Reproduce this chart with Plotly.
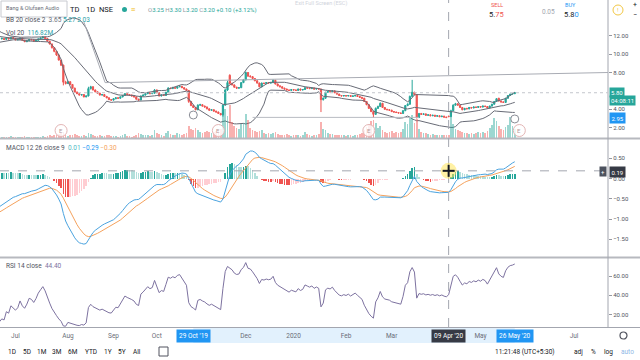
import pandas as pd
import plotly.graph_objects as go

FONT = "Roboto"
UP = "#26a69a"
DN = "#ef5350"
TXT = "#50535e"

# ---------------- calendar (NSE trading days) ----------------
first_date = "2019-06-21"
last_date = "2020-05-26"
axis_end = "2020-07-31"
holidays = ["2019-08-12", "2019-08-15", "2019-09-02", "2019-09-10", "2019-10-02",
            "2019-10-08", "2019-10-21", "2019-10-28", "2019-11-12", "2019-12-25",
            "2020-02-21", "2020-03-10", "2020-04-02", "2020-04-06", "2020-04-10",
            "2020-04-14", "2020-05-01", "2020-05-25"]
special_sessions = ["2020-02-01"]

tick_months = ["2019-07", "2019-08", "2019-09", "2019-10", "2019-12", "2020-01",
               "2020-02", "2020-03", "2020-05", "2020-07"]
tick_labels = ["Jul", "Aug", "Sep", "Oct", "Dec", "2020", "Feb", "Mar", "May", "Jul"]

# ---------------- daily OHLCV ----------------
opens = [
    11.65, 11.70, 11.60, 11.75, 11.65, 11.80, 11.70, 11.55, 11.60, 11.75,
    11.50, 11.35, 11.45, 11.60, 11.55, 11.40, 11.50, 11.65, 11.75, 11.85,
    11.70, 11.40, 11.10, 10.70, 10.30, 9.90, 9.35, 8.80, 6.95, 6.80,
    7.00, 6.70, 6.30, 5.85, 5.70, 5.55, 5.60, 5.35, 5.45, 6.25,
    6.45, 6.10, 5.90, 5.75, 5.55, 5.60, 5.40, 5.25, 5.05, 5.00,
    5.15, 5.25, 5.20, 5.35, 5.50, 5.70, 5.60, 5.55, 5.45, 5.35,
    5.10, 5.00, 5.45, 5.55, 5.70, 5.80, 5.70, 5.75, 6.10, 5.80,
    5.45, 5.55, 5.50, 5.85, 6.30, 6.25, 6.35, 6.30, 6.45, 6.50,
    6.35, 6.20, 6.05, 4.85, 4.40, 4.20, 3.95, 4.45, 4.50, 4.35,
    4.25, 4.05, 3.90, 3.95, 3.80, 3.70, 3.55, 3.40, 4.45, 6.10,
    7.70, 6.80, 6.65, 6.40, 6.30, 6.35, 6.90, 7.20, 8.00, 7.60,
    7.55, 7.35, 7.10, 6.85, 6.45, 6.85, 6.80, 6.90, 6.85, 6.90,
    7.15, 6.75, 6.55, 6.45, 6.30, 6.20, 6.10, 6.05, 6.15, 6.10,
    6.05, 6.20, 6.10, 6.15, 6.35, 6.30, 6.25, 6.30, 6.20, 6.25,
    6.20, 5.05, 5.20, 5.85, 5.95, 5.90, 6.00, 5.80, 5.65, 5.50,
    5.45, 5.50, 5.45, 5.50, 5.40, 5.45, 5.50, 5.40, 5.30, 5.20,
    4.85, 4.50, 4.10, 3.75, 3.45, 4.10, 4.30, 4.65, 4.20, 4.00,
    3.95, 3.90, 3.75, 3.70, 3.65, 3.60, 3.55, 3.85, 4.40, 4.55,
    5.40, 5.85, 5.60, 3.10, 3.55, 3.45, 3.50, 3.35, 3.40, 3.30,
    3.35, 3.25, 3.30, 3.20, 3.25, 3.15, 3.25, 3.20, 3.85, 4.45,
    4.60, 4.45, 4.20, 3.95, 4.10, 4.05, 4.20, 4.15, 4.25, 4.20,
    4.30, 4.25, 4.35, 4.30, 4.15, 4.35, 4.55, 4.85, 5.20, 4.90,
    4.80, 4.75, 5.20, 5.50, 5.65, 5.70]
highs = [
    11.80, 11.75, 11.80, 11.80, 11.85, 11.85, 11.75, 11.65, 11.80, 11.80,
    11.55, 11.50, 11.65, 11.65, 11.60, 11.55, 11.70, 11.80, 11.95, 11.90,
    11.75, 11.45, 11.15, 10.75, 10.35, 9.95, 9.40, 8.85, 7.10, 7.10,
    7.05, 6.75, 6.35, 5.95, 5.75, 5.65, 5.65, 5.50, 6.45, 6.55,
    6.50, 6.15, 5.95, 5.80, 5.65, 5.65, 5.45, 5.30, 5.10, 5.20,
    5.30, 5.30, 5.40, 5.55, 5.75, 5.75, 5.65, 5.60, 5.50, 5.40,
    5.15, 5.50, 5.60, 5.75, 5.85, 5.85, 5.80, 6.20, 6.15, 5.85,
    5.60, 5.60, 5.90, 6.40, 6.35, 6.45, 6.40, 6.50, 6.60, 6.55,
    6.40, 6.25, 6.10, 4.90, 4.50, 4.25, 4.55, 4.60, 4.55, 4.40,
    4.30, 4.10, 4.00, 4.00, 3.85, 3.75, 3.60, 4.55, 6.20, 7.10,
    7.80, 6.90, 6.70, 6.45, 6.40, 6.95, 7.30, 8.10, 8.05, 7.70,
    7.60, 7.40, 7.15, 6.90, 6.90, 6.90, 6.95, 6.95, 6.95, 7.25,
    7.20, 6.80, 6.60, 6.50, 6.35, 6.25, 6.15, 6.20, 6.20, 6.15,
    6.25, 6.25, 6.20, 6.40, 6.40, 6.35, 6.35, 6.35, 6.30, 6.30,
    6.25, 5.30, 5.90, 6.00, 6.00, 6.05, 6.05, 5.85, 5.70, 5.55,
    5.55, 5.55, 5.55, 5.55, 5.50, 5.55, 5.55, 5.45, 5.35, 5.25,
    4.90, 4.55, 4.15, 3.80, 4.20, 4.40, 4.75, 4.70, 4.25, 4.05,
    4.00, 3.95, 3.80, 3.75, 3.70, 3.65, 3.90, 4.45, 4.65, 5.50,
    7.20, 5.90, 5.65, 3.60, 3.60, 3.55, 3.55, 3.45, 3.45, 3.40,
    3.40, 3.35, 3.35, 3.30, 3.30, 3.20, 3.30, 3.95, 4.55, 4.70,
    4.65, 4.50, 4.25, 4.15, 4.15, 4.25, 4.25, 4.30, 4.30, 4.35,
    4.35, 4.40, 4.40, 4.35, 4.40, 4.60, 4.90, 5.20, 5.25, 4.95,
    4.85, 5.25, 5.55, 5.70, 5.75, 5.85]
lows = [
    11.60, 11.55, 11.55, 11.60, 11.60, 11.65, 11.50, 11.50, 11.55, 11.45,
    11.30, 11.30, 11.40, 11.50, 11.35, 11.35, 11.45, 11.60, 11.70, 11.65,
    11.35, 11.05, 10.60, 10.20, 9.80, 9.30, 8.70, 6.60, 6.70, 6.75,
    6.65, 6.25, 5.80, 5.65, 5.50, 5.50, 5.30, 5.30, 5.40, 6.15,
    6.05, 5.85, 5.70, 5.50, 5.50, 5.35, 5.20, 5.00, 4.95, 4.95,
    5.10, 5.15, 5.15, 5.30, 5.45, 5.55, 5.50, 5.40, 5.30, 5.05,
    4.95, 5.00, 5.40, 5.50, 5.65, 5.65, 5.65, 5.70, 5.75, 5.40,
    5.40, 5.45, 5.45, 5.80, 6.20, 6.20, 6.25, 6.25, 6.40, 6.30,
    6.15, 6.00, 4.70, 4.35, 4.15, 3.90, 3.90, 4.40, 4.30, 4.20,
    4.00, 3.85, 3.85, 3.75, 3.65, 3.50, 3.35, 3.20, 4.40, 6.00,
    6.70, 6.60, 6.35, 6.20, 6.25, 6.30, 6.85, 7.15, 7.55, 7.45,
    7.30, 7.05, 6.80, 6.40, 6.40, 6.75, 6.75, 6.80, 6.80, 6.85,
    6.70, 6.50, 6.40, 6.25, 6.15, 6.05, 6.00, 6.00, 6.05, 6.00,
    6.00, 6.05, 6.05, 6.10, 6.25, 6.20, 6.20, 6.15, 6.15, 6.15,
    3.70, 4.95, 5.15, 5.80, 5.85, 5.85, 5.75, 5.60, 5.45, 5.40,
    5.40, 5.40, 5.40, 5.35, 5.35, 5.40, 5.35, 5.25, 5.15, 4.80,
    4.45, 4.05, 3.70, 3.10, 3.40, 4.05, 4.25, 4.15, 3.95, 3.90,
    3.85, 3.70, 3.65, 3.60, 3.55, 3.50, 3.50, 3.80, 4.35, 4.50,
    5.35, 5.55, 3.00, 3.05, 3.40, 3.40, 3.30, 3.30, 3.25, 3.25,
    3.20, 3.20, 3.15, 3.15, 3.10, 3.05, 3.20, 3.20, 3.80, 4.40,
    4.40, 4.15, 3.90, 3.90, 4.00, 4.00, 4.10, 4.10, 4.15, 4.15,
    4.20, 4.20, 4.25, 4.10, 4.10, 4.30, 4.50, 4.80, 4.85, 4.75,
    4.70, 4.70, 5.15, 5.45, 5.60, 5.65]
closes = [
    11.70, 11.60, 11.75, 11.65, 11.80, 11.70, 11.55, 11.60, 11.75, 11.50,
    11.35, 11.45, 11.60, 11.55, 11.40, 11.50, 11.65, 11.75, 11.85, 11.70,
    11.40, 11.10, 10.70, 10.30, 9.90, 9.35, 8.80, 6.95, 6.80, 7.00,
    6.70, 6.30, 5.85, 5.70, 5.55, 5.60, 5.35, 5.45, 6.25, 6.45,
    6.10, 5.90, 5.75, 5.55, 5.60, 5.40, 5.25, 5.05, 5.00, 5.15,
    5.25, 5.20, 5.35, 5.50, 5.70, 5.60, 5.55, 5.45, 5.35, 5.10,
    5.00, 5.45, 5.55, 5.70, 5.80, 5.70, 5.75, 6.10, 5.80, 5.45,
    5.55, 5.50, 5.85, 6.30, 6.25, 6.35, 6.30, 6.45, 6.50, 6.35,
    6.20, 6.05, 4.85, 4.40, 4.20, 3.95, 4.45, 4.50, 4.35, 4.25,
    4.05, 3.90, 3.95, 3.80, 3.70, 3.55, 3.40, 4.45, 6.10, 6.90,
    6.80, 6.65, 6.40, 6.30, 6.35, 6.90, 7.20, 8.00, 7.60, 7.55,
    7.35, 7.10, 6.85, 6.45, 6.85, 6.80, 6.90, 6.85, 6.90, 7.15,
    6.75, 6.55, 6.45, 6.30, 6.20, 6.10, 6.05, 6.15, 6.10, 6.05,
    6.20, 6.10, 6.15, 6.35, 6.30, 6.25, 6.30, 6.20, 6.25, 6.20,
    5.05, 5.20, 5.85, 5.95, 5.90, 6.00, 5.80, 5.65, 5.50, 5.45,
    5.50, 5.45, 5.50, 5.40, 5.45, 5.50, 5.40, 5.30, 5.20, 4.85,
    4.50, 4.10, 3.75, 3.45, 4.10, 4.30, 4.65, 4.20, 4.00, 3.95,
    3.90, 3.75, 3.70, 3.65, 3.60, 3.55, 3.85, 4.40, 4.55, 5.40,
    5.85, 5.60, 3.10, 3.55, 3.45, 3.50, 3.35, 3.40, 3.30, 3.35,
    3.25, 3.30, 3.20, 3.25, 3.15, 3.10, 3.20, 3.85, 4.45, 4.60,
    4.45, 4.20, 3.95, 4.10, 4.05, 4.20, 4.15, 4.25, 4.20, 4.30,
    4.25, 4.35, 4.30, 4.15, 4.35, 4.55, 4.85, 5.15, 4.90, 4.80,
    4.75, 5.20, 5.50, 5.65, 5.70, 5.80]
volumes_m = [
    0.15, 0.10, 0.12, 0.10, 0.20, 0.10, 0.12, 0.10, 0.15, 0.12,
    0.18, 0.10, 0.12, 0.15, 0.10, 0.12, 0.10, 0.15, 0.20, 0.12,
    0.20, 0.30, 0.25, 0.30, 0.35, 0.40, 0.50, 0.60, 0.30, 0.25,
    0.30, 0.35, 0.40, 0.30, 0.25, 0.20, 0.30, 0.25, 0.50, 0.45,
    0.30, 0.25, 0.20, 0.30, 0.20, 0.25, 0.30, 0.35, 0.25, 0.20,
    0.20, 0.15, 0.20, 0.30, 0.40, 0.20, 0.20, 0.15, 0.20, 0.30,
    0.50, 0.40, 0.30, 0.30, 0.35, 0.25, 0.30, 0.80, 0.50, 0.40,
    0.30, 0.25, 0.50, 0.70, 0.40, 0.30, 0.35, 0.50, 0.40, 0.30,
    0.40, 0.50, 1.20, 0.90, 0.80, 1.00, 0.80, 0.60, 0.50, 0.60,
    0.70, 0.60, 0.50, 0.60, 0.70, 0.80, 0.90, 2.60, 2.90, 2.20,
    3.30, 1.60, 1.20, 1.00, 0.90, 1.40, 1.50, 2.40, 1.80, 1.00,
    0.80, 0.70, 0.60, 0.70, 0.80, 0.50, 0.40, 0.50, 0.40, 0.50,
    0.60, 0.40, 0.30, 0.35, 0.30, 0.40, 0.30, 0.25, 0.30, 0.30,
    0.30, 0.25, 0.30, 0.60, 0.40, 0.30, 0.25, 0.30, 0.30, 0.40,
    1.60, 0.90, 0.80, 0.50, 0.40, 0.40, 0.35, 0.30, 0.35, 0.30,
    0.30, 0.25, 0.30, 0.30, 0.25, 0.30, 0.30, 0.40, 0.50, 0.80,
    1.10, 1.40, 1.70, 1.80, 1.50, 1.00, 1.20, 0.80, 0.60, 0.50,
    0.60, 0.70, 0.50, 0.60, 0.50, 0.60, 0.90, 1.60, 1.40, 2.10,
    2.30, 1.50, 1.90, 0.90, 0.60, 0.50, 0.50, 0.40, 0.35, 0.40,
    0.35, 0.30, 0.35, 0.30, 0.30, 0.35, 0.30, 2.50, 1.40, 0.90,
    0.80, 0.70, 0.60, 0.50, 0.50, 0.40, 0.50, 0.40, 0.50, 0.60,
    0.50, 0.60, 0.50, 0.70, 1.00, 1.30, 2.00, 1.70, 1.20, 0.90,
    0.80, 1.10, 1.30, 2.10, 1.20, 0.90]
# closes before the visible window (estimated; they only seed the indicators)
warmup_closes = [
    17.2, 17.0, 16.9, 16.6, 16.5, 16.2, 16.0, 15.8, 15.5, 15.3,
    15.0, 14.8, 14.5, 14.2, 14.0, 13.7, 13.5, 13.2, 13.0, 12.8,
    12.6, 12.5, 12.3, 12.2, 12.1, 12.0, 11.95, 11.9, 11.85, 11.8,
    11.75, 11.8, 11.7, 11.75, 11.7, 11.65, 11.7, 11.6, 11.7, 11.65]

# chart annotations / drawings
earnings_dates = ["2019-07-29", "2019-11-14", "2020-02-14", "2020-05-28"]
crosshair_date = "2020-04-09"
crosshair_macd = 0.19
range_start_date = "2019-10-29"
range_anchor_prices = [3.38, 2.95]
trend_line_bars = [36.0, 45.3, 265.9]
trend_line_prices = [13.5, 6.9, 8.0]
support_line = dict(bar0=110, bar1=183, price=3.12)
last_price = 5.80

assert len(opens) == len(highs) == len(lows) == len(closes) == len(volumes_m) == 226

# ---------------- calendar -> bar index ----------------
cal = pd.bdate_range(first_date, axis_end)
cal = cal.difference(pd.to_datetime(holidays)).union(pd.to_datetime(special_sessions))
cal = cal.sort_values()


def bar_of(d):
    return int(cal.get_loc(pd.Timestamp(d)))


n = bar_of(last_date) + 1
idx = list(range(n))
tick_vals = []
for m in tick_months:
    tick_vals.append(int(next(i for i, d in enumerate(cal) if d.strftime("%Y-%m") == m)))

# ---------------- indicators ----------------
nw = len(warmup_closes)
allc = pd.Series(warmup_closes + closes, index=range(-nw, n))
basis = allc.rolling(20).mean()
dev = allc.rolling(20).std(ddof=0)
upper = basis + 2 * dev
lower = basis - 2 * dev
ema12 = allc.ewm(span=12, adjust=False).mean()
ema26 = allc.ewm(span=26, adjust=False).mean()
macd = ema12 - ema26
signal = macd.ewm(span=9, adjust=False).mean()
hist = macd - signal
delta = allc.diff()
gain = delta.clip(lower=0).ewm(alpha=1 / 14, adjust=False).mean()
loss = (-delta.clip(upper=0)).ewm(alpha=1 / 14, adjust=False).mean()
rsi = 100 - 100 / (1 + gain / loss)

hcols = []
prev = 0
for h in hist.values:
    if h >= 0:
        hcols.append("#26a69a" if h > prev else "#b2dfdb")
    else:
        hcols.append("#ef5350" if h < prev else "#ffcdd2")
    prev = h

vcols = ["rgba(38,166,154,0.45)" if c >= o else "rgba(239,83,80,0.45)" for o, c in zip(opens, closes)]

# ---------------- geometry helpers ----------------
PW, PH = 608.0, 327.0


def px_x(x):
    return x / PW


def px_y(y):
    return 1 - y / PH


XR = [-0.79, 265.9]
P_DOM = [px_y(138), 1]
M_DOM = [px_y(256), px_y(140)]
R_DOM = [0, px_y(259)]

fig = go.Figure()
fig.add_trace(go.Bar(x=idx, y=volumes_m, marker=dict(color=vcols, line=dict(width=0)), width=0.75,
                     xaxis="x", yaxis="y2", hoverinfo="skip"))
for s in (upper, basis, lower):
    fig.add_trace(go.Scatter(x=list(s.index), y=s.values, mode="lines", line=dict(color="#686b76", width=1),
                             xaxis="x", yaxis="y", hoverinfo="skip"))
fig.add_trace(go.Candlestick(x=idx, open=opens, high=highs, low=lows, close=closes,
                             increasing=dict(line=dict(color=UP, width=1), fillcolor=UP),
                             decreasing=dict(line=dict(color=DN, width=1), fillcolor=DN),
                             whiskerwidth=0, xaxis="x", yaxis="y", hoverinfo="skip"))
fig.add_trace(go.Bar(x=list(hist.index), y=hist.values, marker=dict(color=hcols, line=dict(width=0)), width=0.7,
                     xaxis="x2", yaxis="y3", hoverinfo="skip"))
fig.add_trace(go.Scatter(x=list(signal.index), y=signal.values, mode="lines", line=dict(color="#f5a25d", width=1),
                         xaxis="x2", yaxis="y3", hoverinfo="skip"))
fig.add_trace(go.Scatter(x=list(macd.index), y=macd.values, mode="lines", line=dict(color="#4aa3df", width=1),
                         xaxis="x2", yaxis="y3", hoverinfo="skip"))
fig.add_trace(go.Scatter(x=list(rsi.index), y=rsi.values, mode="lines", line=dict(color="#7d72a0", width=1),
                         xaxis="x3", yaxis="y4", hoverinfo="skip"))

axfont = dict(family=FONT, size=6, color=TXT)
common_x = dict(range=XR, showgrid=False, zeroline=False, showticklabels=False, ticks="", fixedrange=True)
common_y = dict(side="right", showgrid=False, zeroline=False, ticks="outside", ticklen=3, tickcolor="#9598a1",
                tickfont=axfont, showline=False)

layout_shapes = []
# pane separators and frame
for y in (138.5, 257.5):
    layout_shapes.append(dict(type="line", xref="paper", yref="paper", x0=0, x1=640 / PW, y0=px_y(y), y1=px_y(y),
                              line=dict(color="#b7b9bf", width=2)))
layout_shapes.append(dict(type="line", xref="paper", yref="paper", x0=0, x1=640 / PW, y0=px_y(327.5), y1=px_y(327.5),
                          line=dict(color="#a3a6af", width=1)))
layout_shapes.append(dict(type="line", xref="paper", yref="paper", x0=1, x1=1, y0=px_y(327.5), y1=1,
                          line=dict(color="#a3a6af", width=1)))
# last price line
layout_shapes.append(dict(type="line", xref="x", yref="y", x0=XR[0], x1=XR[1], y0=last_price, y1=last_price,
                          line=dict(color="#c3c6cc", width=1, dash="dot")))
# trend line drawing
for i in range(len(trend_line_bars) - 1):
    layout_shapes.append(dict(type="line", xref="x", yref="y", x0=trend_line_bars[i], x1=trend_line_bars[i + 1],
                              y0=trend_line_prices[i], y1=trend_line_prices[i + 1],
                              line=dict(color="#a9acb4", width=1)))
layout_shapes.append(dict(type="line", xref="x", yref="y", x0=support_line["bar0"], x1=support_line["bar1"],
                          y0=support_line["price"], y1=support_line["price"], line=dict(color="#b8bbc2", width=1)))
# date-range band on time axis
rs, re_ = bar_of(range_start_date), bar_of(last_date)
layout_shapes.append(dict(type="rect", xref="x3", yref="paper", x0=rs, x1=re_, y0=px_y(343), y1=px_y(328),
                          fillcolor="rgba(33,150,243,0.13)", line=dict(width=0), layer="below"))
# range anchors
for b, p in zip([rs, re_], range_anchor_prices):
    layout_shapes.append(dict(type="circle", xref="x", yref="y", xsizemode="pixel", ysizemode="pixel",
                              xanchor=b, yanchor=p, x0=-4, x1=4, y0=-4, y1=4,
                              line=dict(color="#8a8d96", width=1), fillcolor="white"))
# earnings markers
for d in earnings_dates:
    b = bar_of(d)
    layout_shapes.append(dict(type="circle", xref="x", yref="paper", xsizemode="pixel", ysizemode="pixel",
                              xanchor=b, yanchor=px_y(130.5), x0=-6, x1=6, y0=-6, y1=6,
                              line=dict(color="#e3b5b5", width=1), fillcolor="rgba(255,255,255,0.8)"))
# crosshair
cb = bar_of(crosshair_date)
layout_shapes.append(dict(type="line", xref="x", yref="paper", x0=cb, x1=cb, y0=0, y1=1,
                          line=dict(color="#a3a6af", width=1, dash="dash")))
layout_shapes.append(dict(type="line", xref="paper", yref="y3", x0=0, x1=1, y0=crosshair_macd, y1=crosshair_macd,
                          line=dict(color="#a3a6af", width=1, dash="dash")))
layout_shapes.append(dict(type="circle", xref="x2", yref="y3", xsizemode="pixel", ysizemode="pixel",
                          xanchor=cb, yanchor=crosshair_macd, x0=-8, x1=8, y0=-8, y1=8,
                          fillcolor="rgba(255,230,90,0.55)", line=dict(width=0)))
layout_shapes.append(dict(type="line", xref="x2", yref="y3", xsizemode="pixel", ysizemode="pixel",
                          xanchor=cb, yanchor=crosshair_macd, x0=-6, x1=6, y0=0, y1=0,
                          line=dict(color="#131722", width=2)))
layout_shapes.append(dict(type="line", xref="x2", yref="y3", xsizemode="pixel", ysizemode="pixel",
                          xanchor=cb, yanchor=crosshair_macd, x0=0, x1=0, y0=-6, y1=6,
                          line=dict(color="#131722", width=2)))
# symbol tooltip box
layout_shapes.append(dict(type="rect", xref="paper", yref="paper", x0=px_x(1), x1=px_x(67), y0=px_y(17), y1=px_y(1),
                          fillcolor="white", line=dict(color="#c8cad0", width=1)))
# status dot
layout_shapes.append(dict(type="circle", xref="paper", yref="paper", x0=px_x(122), x1=px_x(127), y0=px_y(12),
                          y1=px_y(7), fillcolor="#26a69a", line=dict(width=0)))
# top-right icon
layout_shapes.append(dict(type="circle", xref="paper", yref="paper", x0=px_x(613), x1=px_x(623), y0=px_y(15),
                          y1=px_y(5), fillcolor="white", line=dict(color="#f2c744", width=1)))
# settings gear & calendar icon
layout_shapes.append(dict(type="circle", xref="paper", yref="paper", x0=px_x(620), x1=px_x(627), y0=px_y(339),
                          y1=px_y(332), line=dict(color="#50535e", width=1.2)))
layout_shapes.append(dict(type="rect", xref="paper", yref="paper", x0=px_x(159), x1=px_x(168), y0=px_y(356),
                          y1=px_y(347), line=dict(color="#50535e", width=1)))


def T(x, y, s, size=6.5, color=TXT, anchor="left", **kw):
    return dict(xref="paper", yref="paper", x=px_x(x), y=px_y(y), text=s, showarrow=False, xanchor=anchor,
                yanchor="middle", font=dict(family=FONT, size=size, color=color), **kw)


def span(s, c):
    return f"<span style='color:{c}'>{s}</span>"


ann = []
ann.append(T(4, 8.5, "Bang &amp; Olufsen Audio", size=5.5, color="#6a6d78"))
ann.append(T(68, 10, "TD", size=7.5, color="#131722"))
ann.append(T(84, 10, "1D", size=7.5, color="#131722"))
ann.append(T(97, 10, "NSE", size=7.5, color="#131722"))
ann.append(T(129, 9.5, "≡", size=8, color="#f0b90b"))
ann.append(T(146, 10, span("O", "#9598a1") + span("3.25 ", UP) + span("H", "#9598a1") + span("3.30 ", UP) +
             span("L", "#9598a1") + span("3.20 ", UP) + span("C", "#9598a1") + span("3.20 +0.10 (+3.12%)", UP),
             size=6))
ann.append(T(293, 4, "Exit Full Screen (ESC)", size=5.5, color="#d1d4dc"))
ann.append(T(497, 5, "SELL", size=5.5, color="#ef5350", anchor="center"))
ann.append(T(496, 14.5, span("5.", "#131722") + span("75", "#ef5350"), size=7.5, anchor="center"))
ann.append(T(548, 12, "0.05", size=6.5, color="#a3a6af", anchor="center"))
ann.append(T(570, 5, "BUY", size=5.5, color="#2196f3", anchor="center"))
ann.append(T(571, 14.5, span("5.8", "#131722") + span("0", "#2196f3"), size=7.5, anchor="center"))
ann.append(T(618, 10, "!", size=6, color="#f2c744", anchor="center"))
ann.append(T(635, 5, "+", size=7, color="#131722", anchor="center"))
ann.append(T(635, 15, "−", size=7, color="#131722", anchor="center"))
ann.append(T(4, 20.5, "BB 20 close 2 " + span(" 3.65", "#6a6d78") + span(" 5.27", "#2a9fa8") +
             span(" 2.03", "#2a9fa8"), size=6.5))
ann.append(T(4, 32.5, "Vol 20 " + span(" 116.82M", "#2a9fa8"), size=6.5))
ann.append(T(4, 148, "MACD 12 26 close 9 " + span(" 0.01", "#4fb9c4") + span(" −0.29", "#2196f3") +
             span(" −0.30", "#f5a25d"), size=6.5))
ann.append(T(4, 266, "RSI 14 close " + span(" 44.40", "#7d72a0"), size=6.5))
# earnings letters
for d in earnings_dates:
    ann.append(dict(xref="x", yref="paper", x=bar_of(d), y=px_y(130.5), text="E", showarrow=False,
                    font=dict(family=FONT, size=6, color="#b79a9a"), xanchor="center", yanchor="middle"))
# price-axis labels
ann.append(T(609, 92.5, "5.80", size=6, color="white", bgcolor="#26a69a", borderpad=1))
ann.append(T(609, 100.8, "04:08:11", size=6, color="white", bgcolor="#26a69a", borderpad=1))
ann.append(T(609, 118.5, "2.95", size=6, color="white", bgcolor="#2196f3", borderpad=1.5))
ann.append(T(609, 171.5, "0.19", size=6, color="white", bgcolor="#363a45", borderpad=1.5))
ann.append(T(602.5, 171.5, "+", size=6, color="white", bgcolor="#4c525e", borderpad=1, anchor="center"))
# time-axis date boxes
for d, txt_, bg in ((range_start_date, "29 Oct '19", "#2196f3"), (crosshair_date, "09 Apr '20", "#363a45"),
                    (last_date, "26 May '20", "#2196f3")):
    ann.append(dict(xref="x3", yref="paper", x=bar_of(d), y=px_y(335.5), text=txt_, showarrow=False,
                    xanchor="center", yanchor="middle", bgcolor=bg, borderpad=2,
                    font=dict(family=FONT, size=6.5, color="white")))
# bottom toolbar
for x, s in ((12, "1D"), (27, "5D"), (42, "1M"), (57, "3M"), (73, "6M"), (91, "YTD"), (108, "1Y"), (122, "5Y"),
             (137, "All")):
    ann.append(T(x, 351.5, s, size=6.5, color="#131722", anchor="center"))
ann.append(T(525, 351.5, "11:21:48 (UTC+5:30)", size=6.5, color="#131722", anchor="center"))
ann.append(T(578, 351.5, "adj", size=6.5, color="#131722", anchor="center"))
ann.append(T(593, 351.5, "%", size=6.5, color="#131722", anchor="center"))
ann.append(T(608, 351.5, "log", size=6.5, color="#131722", anchor="center"))
ann.append(T(627, 351.5, "auto", size=6.5, color="#8fb8e6", anchor="center"))

fig.update_layout(
    width=640, height=360, autosize=False,
    margin=dict(l=0, r=32, t=0, b=33, pad=0),
    paper_bgcolor="white", plot_bgcolor="white",
    showlegend=False, hovermode=False, bargap=0, boxgap=0.25,
    xaxis=dict(domain=[0, 1], anchor="y", rangeslider=dict(visible=False), **common_x),
    xaxis2=dict(domain=[0, 1], anchor="y3", **common_x),
    xaxis3=dict(domain=[0, 1], anchor="y4", range=XR, showgrid=False, zeroline=False, ticks="",
                tickvals=tick_vals, ticktext=tick_labels, tickfont=dict(family=FONT, size=6.5, color="#6a6d78"),
                ticklabelstandoff=3, fixedrange=True),
    yaxis=dict(domain=P_DOM, anchor="x", range=[0.88, 15.88], tickvals=[2, 4, 8, 10, 12],
               ticktext=["2.00", "4.00", "8.00", "10.00", "12.00"], **common_y),
    yaxis2=dict(overlaying="y", anchor="x", range=[0, 13.8], visible=False),
    yaxis3=dict(domain=M_DOM, anchor="x2", range=[-1.91, 0.95], tickvals=[0.5, 0, -0.5, -1, -1.5],
                ticktext=["0.50", "0.00", "−0.50", "−1.00", "−1.50"], **common_y),
    yaxis4=dict(domain=R_DOM, anchor="x3", range=[7.2, 77.6], tickvals=[20, 40, 60],
                ticktext=["20.00", "40.00", "60.00"], **common_y),
    shapes=layout_shapes,
    annotations=ann,
)

fig.write_html("out.html", config={"displayModeBar": False, "staticPlot": True},
               post_script="document.body.style.margin='0';document.body.style.overflow='hidden';")
